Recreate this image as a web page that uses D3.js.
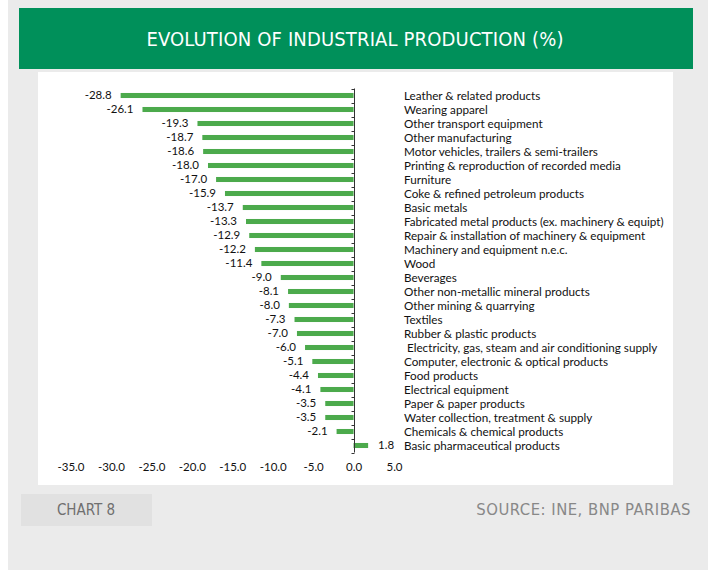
<!DOCTYPE html>
<html><head><meta charset="utf-8">
<script src="https://cdn.jsdelivr.net/npm/d3@7"></script>
<style>
html,body{margin:0;padding:0;background:#fff;}
svg{display:block;}
</style></head>
<body>
<svg id="c" width="708" height="574"></svg>
<script>
const categories = [
  "Leather & related products",
  "Wearing apparel",
  "Other transport equipment",
  "Other manufacturing",
  "Motor vehicles, trailers & semi-trailers",
  "Printing & reproduction of recorded media",
  "Furniture",
  "Coke & refined petroleum products",
  "Basic metals",
  "Fabricated metal products (ex. machinery & equipt)",
  "Repair & installation of machinery & equipment",
  "Machinery and equipment n.e.c.",
  "Wood",
  "Beverages",
  "Other non-metallic mineral products",
  "Other mining & quarrying",
  "Textiles",
  "Rubber & plastic products",
  " Electricity, gas, steam and air conditioning supply",
  "Computer, electronic & optical products",
  "Food products",
  "Electrical equipment",
  "Paper & paper products",
  "Water collection, treatment & supply",
  "Chemicals & chemical products",
  "Basic pharmaceutical products"
];
const values = [-28.8,-26.1,-19.3,-18.7,-18.6,-18.0,-17.0,-15.9,-13.7,-13.3,-12.9,-12.2,-11.4,-9.0,-8.1,-8.0,-7.3,-7.0,-6.0,-5.1,-4.4,-4.1,-3.5,-3.5,-2.1,1.8];
const xTicks = [-35,-30,-25,-20,-15,-10,-5,0,5];
const title = "EVOLUTION OF INDUSTRIAL PRODUCTION (%)";
const chartLabel = "CHART 8";
const sourceLabel = "SOURCE: INE, BNP PARIBAS";

const svg = d3.select("#c");
const condensed = "'DejaVu Sans Condensed','Liberation Sans Narrow',sans-serif";
const body = "Lato,'Open Sans',sans-serif";

// backgrounds
svg.append("rect").attr("x",8).attr("y",0).attr("width",700).attr("height",570).attr("fill","#ebebeb");
svg.append("rect").attr("x",19).attr("y",8).attr("width",674).attr("height",61).attr("fill","#00905a");
svg.append("text").attr("x",355).attr("y",39).attr("text-anchor","middle").attr("dominant-baseline","central")
  .attr("fill","#fff").attr("font-family",condensed).attr("font-size",20).attr("letter-spacing",0.15).text(title);
svg.append("rect").attr("x",38).attr("y",72).attr("width",635).attr("height",413).attr("fill","#fff");
svg.append("rect").attr("x",21).attr("y",494).attr("width",131).attr("height",32).attr("fill","#e1e1e1");
svg.append("text").attr("x",86).attr("y",510).attr("text-anchor","middle").attr("dominant-baseline","central")
  .attr("fill","#6f6f6f").attr("font-family",condensed).attr("font-size",15).text(chartLabel);
svg.append("text").attr("x",691).attr("y",509).attr("text-anchor","end").attr("dominant-baseline","central")
  .attr("fill","#888").attr("font-family",condensed).attr("font-size",16.5).attr("letter-spacing",0.5).text(sourceLabel);

// scales
const x = d3.scaleLinear().domain([-35,5]).range([70.5,394]);
const y = d3.scaleBand().domain(categories).range([88.5,452.5]).paddingInner(0.64).paddingOuter(0.32);
const g = svg.append("g");
const data = categories.map((c,i)=>({c, v: values[i]}));

g.selectAll("rect.bar").data(data).enter().append("rect").attr("class","bar")
  .attr("x", d=>x(Math.min(0,d.v))).attr("width", d=>Math.abs(x(d.v)-x(0)))
  .attr("y", d=>y(d.c)).attr("height", y.bandwidth()).attr("fill","#4caa4c");

// vertical axis line with ticks at band boundaries
const x0 = Math.round(x(0))+0.5;
g.append("line").attr("x1",x0).attr("x2",x0).attr("y1",88.5).attr("y2",452.5).attr("stroke","#333").attr("stroke-width",1);
const bounds = d3.range(categories.length+1).map(i=>88.5 + i*y.step());
g.selectAll("line.tk").data(bounds).enter().append("line").attr("class","tk")
  .attr("x1",x0-3).attr("x2",x0).attr("y1",d=>Math.round(d)+0.5).attr("y2",d=>Math.round(d)+0.5).attr("stroke","#333");

// value labels
g.selectAll("text.val").data(data).enter().append("text").attr("class","val")
  .attr("x", d=> d.v<0 ? x(d.v)-9 : x(d.v)+10)
  .attr("y", d=>y(d.c)+y.bandwidth()/2 - 1)
  .attr("text-anchor", d=> d.v<0 ? "end" : "start")
  .attr("dominant-baseline","central")
  .attr("font-family",body).attr("font-size",11.5).attr("fill","#111")
  .text(d=>d.v.toFixed(1));

// category labels
g.selectAll("text.cat").data(data).enter().append("text").attr("class","cat")
  .attr("x",404).attr("y", d=>y(d.c)+y.bandwidth()/2 - 1)
  .attr("dominant-baseline","central").attr("xml:space","preserve").style("white-space","pre")
  .attr("font-family",body).attr("font-size",11.7).attr("fill","#111")
  .text(d=>d.c);

// x axis tick labels
const xa = d3.axisBottom(x).tickValues(xTicks).tickSize(0).tickPadding(0).tickFormat(d=>d.toFixed(1));
const ax = g.append("g").attr("transform","translate(0,466)").call(xa);
ax.select(".domain").remove();
ax.selectAll("text").attr("font-family",body).attr("font-size",11.5).attr("fill","#111")
  .attr("dy",null).attr("dominant-baseline","central");
</script>
</body></html>
